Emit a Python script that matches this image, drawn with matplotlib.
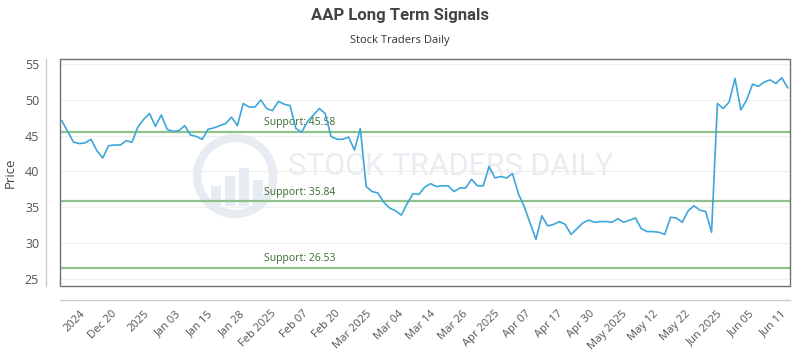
#!/usr/bin/env python3

"""plot.py: AAP long term signals chart"""

import numpy as np
import matplotlib.pyplot as plt
from matplotlib.patches import Rectangle, Ellipse

# daily closing prices
prices = [
    47.1, 45.6, 44.1, 43.9, 44.0, 44.5, 42.9, 41.9, 43.6, 43.7,
    43.7, 44.3, 44.1, 46.2, 47.3, 48.1, 46.3, 47.9, 45.9, 45.6,
    45.7, 46.4, 45.1, 44.9, 44.5, 45.9, 46.1, 46.4, 46.7, 47.6,
    46.4, 49.5, 49.0, 49.0, 50.0, 48.8, 48.5, 49.8, 49.4, 49.2,
    46.0, 45.5, 47.0, 47.9, 48.8, 48.1, 44.9, 44.5, 44.5, 44.8,
    43.0, 46.0, 37.9, 37.2, 37.0, 35.7, 34.9, 34.5, 33.9, 35.5,
    36.9, 36.8, 37.8, 38.3, 37.9, 38.0, 38.0, 37.2, 37.7, 37.7,
    38.9, 38.0, 38.0, 40.7, 39.1, 39.3, 39.1, 39.7, 36.9, 35.1,
    32.8, 30.5, 33.8, 32.4, 32.6, 33.0, 32.6, 31.2, 32.0, 32.8,
    33.2, 32.9, 33.0, 33.0, 32.9, 33.4, 32.9, 33.2, 33.5, 32.0,
    31.6, 31.6, 31.5, 31.2, 33.6, 33.5, 32.9, 34.5, 35.2, 34.6,
    34.4, 31.5, 49.5, 48.8, 49.7, 53.0, 48.6, 50.0, 52.2, 51.9,
    52.5, 52.8, 52.3, 53.1, 51.7,
]

supports = [45.58, 35.84, 26.53]

date_labels = [
    "2024", "Dec 20", "2025", "Jan 03", "Jan 15", "Jan 28", "Feb 2025",
    "Feb 07", "Feb 20", "Mar 2025", "Mar 04", "Mar 14", "Mar 26",
    "Apr 2025", "Apr 07", "Apr 17", "Apr 30", "May 2025", "May 12",
    "May 22", "Jun 2025", "Jun 05", "Jun 11",
]

y_ticks = [25, 30, 35, 40, 45, 50, 55]

plt.rcParams["font.family"] = ["Open Sans", "DejaVu Sans"]

fig = plt.figure(figsize=(8, 3.5), dpi=100)
ax = fig.add_axes([0.075, 0.183, 0.9125, 0.648])

x = np.arange(len(prices))
ax.set_xlim(-0.3, len(prices) - 0.6)
ax.set_ylim(24.0, 55.7)

# faint horizontal grid
for yv in y_ticks:
    ax.axhline(yv, color="#f0f0f0", lw=0.8, zorder=0)

# watermark: logo ring with a few bars, then the name
ax_w, ax_h = 730.0, 227.0  # axes size in pixels
cx, cy, r = 0.24, 0.485, 38.0
ax.add_patch(Ellipse((cx, cy), 2 * r / ax_w, 2 * r / ax_h,
                     transform=ax.transAxes, fill=False, lw=6,
                     ec="#e6ecf1", zorder=0.5))
for bx, bh in [(-24, 20), (-10, 30), (4, 38), (18, 26)]:
    ax.add_patch(Rectangle((cx + bx / ax_w, cy - 30 / ax_h), 10 / ax_w,
                           bh / ax_h, transform=ax.transAxes,
                           color="#e6ecf1", lw=0, zorder=0.5))
ax.text(0.535, 0.525, "STOCK TRADERS DAILY", transform=ax.transAxes,
        ha="center", va="center", fontsize=22, color="#e9edf1",
        family=["Roboto", "DejaVu Sans"], zorder=0.5)

# support lines
for s in supports:
    ax.axhline(s, color="#8fc18a", lw=1.6, zorder=2)
    ax.text(34.5, s + 0.5, f"Support: {s:.2f}", color="#3d6b34",
            fontsize=7.5, ha="left", va="bottom", zorder=3)

ax.plot(x, prices, color="#3ea6da", lw=1.2, zorder=4)

# frame box plus offset light axis lines
ax.add_patch(Rectangle((0, 0), 1, 1, transform=ax.transAxes, fill=False,
                       ec="#707070", lw=1.0, zorder=5, clip_on=False))
for side in ["top", "right"]:
    ax.spines[side].set_visible(False)
for side in ["left", "bottom"]:
    ax.spines[side].set_position(("outward", 10))
    ax.spines[side].set_color("#cccccc")
    ax.spines[side].set_linewidth(1.0)

ax.set_yticks(y_ticks)
ax.tick_params(axis="y", length=0, pad=5, labelsize=9, labelcolor="#555555")

tick_pos = np.linspace(3.1, 122.8, len(date_labels))
ax.set_xticks(tick_pos)
ax.set_xticklabels(date_labels, rotation=45, ha="right",
                   rotation_mode="anchor")
ax.tick_params(axis="x", length=0, pad=6, labelsize=8, labelcolor="#555555")

ax.set_ylabel("Price", fontsize=9.5, color="#444444", labelpad=6)

fig.text(0.5, 0.955, "AAP Long Term Signals", ha="center", va="center",
         fontsize=12, fontweight="bold", color="#444444",
         family=["Roboto", "DejaVu Sans"])
fig.text(0.5, 0.885, "Stock Traders Daily", ha="center", va="center",
         fontsize=8, color="#333333")

fig.savefig("out.png", dpi=100)
